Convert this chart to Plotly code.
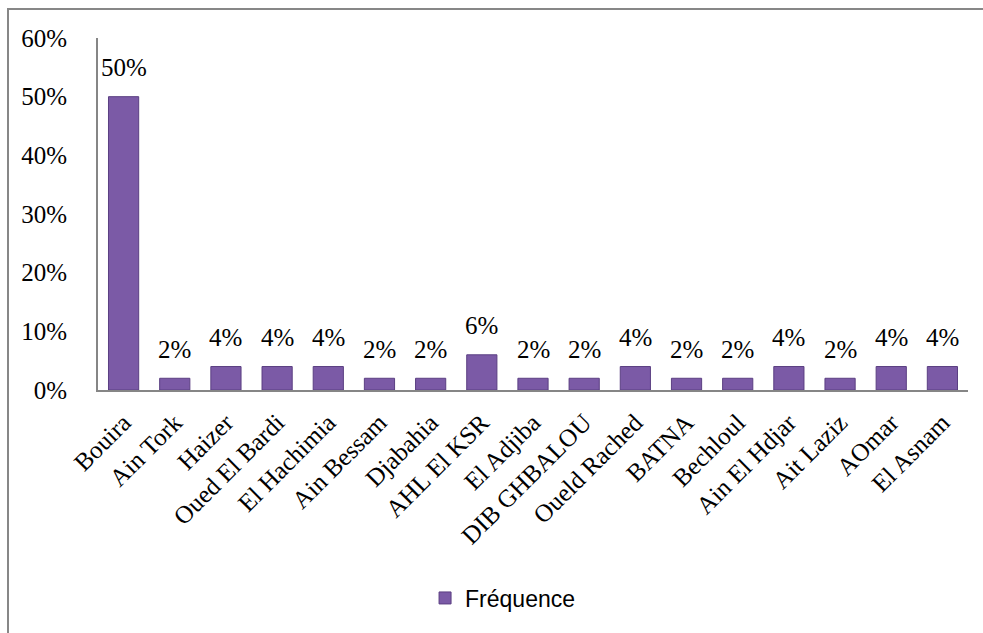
import plotly.graph_objects as go

# Communes and their share of the sample
communes = ["Bouira", "Ain Tork", "Haizer", "Oued El Bardi", "El Hachimia",
            "Ain Bessam", "Djabahia", "AHL El KSR", "El Adjiba", "DIB GHBALOU",
            "Oueld Rached", "BATNA", "Bechloul", "Ain El Hdjar", "Ait Laziz",
            "AOmar", "El Asnam"]
frequence = [0.50, 0.02, 0.04, 0.04, 0.04, 0.02, 0.02, 0.06, 0.02, 0.02,
             0.04, 0.02, 0.02, 0.04, 0.02, 0.04, 0.04]
y_ticks = [0, 0.1, 0.2, 0.3, 0.4, 0.5, 0.6]

serif = "Liberation Serif"
W, H = 983, 633
L, R, T, B = 98, 15, 38, 243
pw, ph = W - L - R, H - T - B

fig = go.Figure()
fig.add_trace(go.Bar(
    x=communes, y=frequence, name="Fréquence",
    marker=dict(color="#7B5AA6", line=dict(color="#5B3F82", width=1)),
    width=0.59,
))

# Value labels above each bar
for c, v in zip(communes, frequence):
    fig.add_annotation(x=c, y=v, text=f"{v:.0%}", showarrow=False,
                       yanchor="middle", yshift=29,
                       font=dict(family=serif, size=25, color="black"))

# Chart frame
fig.add_shape(type="rect", xref="paper", yref="paper",
              x0=(8 - L) / pw, x1=(W + 10 - L) / pw,
              y0=(T + ph - (H + 10)) / ph, y1=(T + ph - 9) / ph,
              line=dict(color="#878787", width=2), layer="below")

fig.update_layout(
    width=W, height=H,
    margin=dict(l=L, r=R, t=T, b=B),
    paper_bgcolor="white", plot_bgcolor="white",
    showlegend=True,
    legend=dict(orientation="h", x=0.465, xanchor="center",
                y=(T + ph - 598) / ph, yanchor="middle",
                font=dict(family="Liberation Sans", size=23, color="black")),
    bargap=0.41,
)
fig.update_xaxes(
    tickangle=-45, tickfont=dict(family=serif, size=25, color="black"),
    showline=True, linecolor="#868686", linewidth=2,
    ticks="", showgrid=False, ticklabelstandoff=6,
)
fig.update_yaxes(
    range=[0, 0.6], tickvals=y_ticks, tickformat=".0%",
    tickfont=dict(family=serif, size=25, color="black"),
    showline=True, linecolor="#868686", linewidth=2,
    ticks="", showgrid=False, zeroline=False, ticklabelstandoff=24,
)

fig.write_html("out.html")
